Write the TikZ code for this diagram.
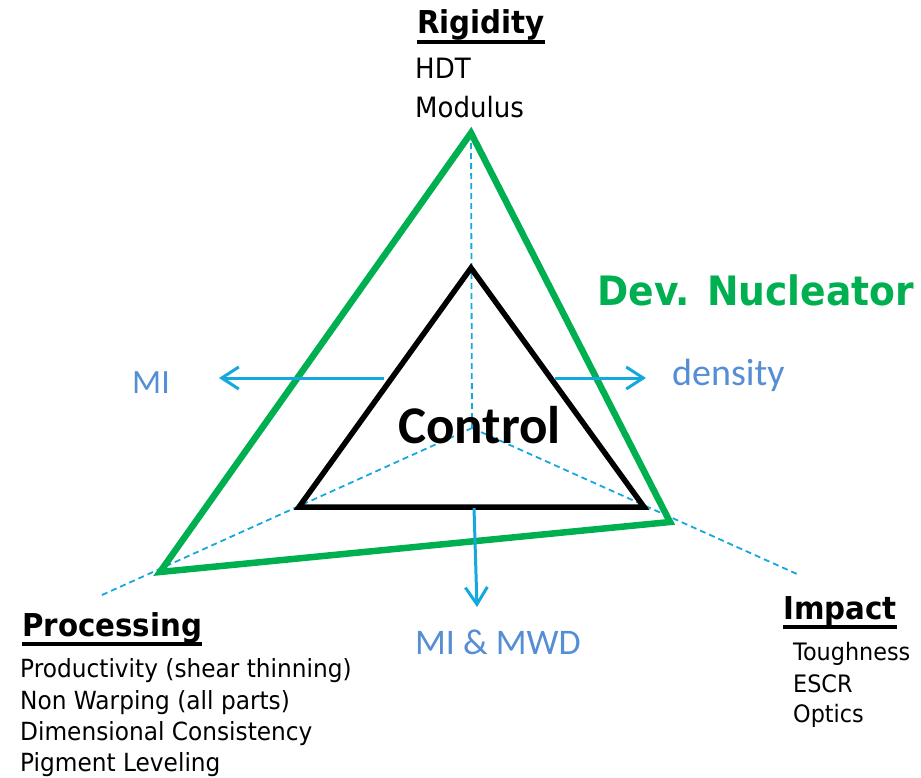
\documentclass[tikz,border=0pt]{standalone}
\usepackage{fontspec}
\setmainfont[FakeStretch=0.93]{DejaVu Sans}
\newfontfamily\carl{Carlito}
\usetikzlibrary{arrows.meta}
\definecolor{devgreen}{RGB}{0,176,80}
\definecolor{axcyan}{RGB}{20,168,220}
\definecolor{txblue}{RGB}{85,142,213}
\tikzset{
  txt/.style={inner sep=0pt, anchor=base west},
  head/.style={txt, font=\bfseries\fontsize{31.5pt}{36pt}\selectfont},
  bodyA/.style={txt, font=\fontsize{25pt}{30pt}\selectfont},
  bodyB/.style={txt, font=\fontsize{24pt}{29pt}\selectfont},
  bodyC/.style={txt, font=\fontsize{28pt}{33pt}\selectfont},
  axlab/.style={txt, text=txblue, font=\carl\fontsize{38pt}{44pt}\selectfont},
  uline/.style={line width=3.5pt},
  dashax/.style={axcyan, line width=1.8pt, dash pattern=on 6pt off 4pt},
  arr/.style={axcyan, line width=3pt, -{Straight Barb[length=17pt,width=22pt]}},
  gtri/.style={devgreen, line width=6.5pt},
  btri/.style={black, line width=5.5pt},
}
\begin{document}
\begin{tikzpicture}[x=1pt,y=-1pt]
\useasboundingbox (0,0) rectangle (921,777);
% coordinates
\coordinate (C) at (472,428);
\coordinate (gA) at (471,133);
\coordinate (gL) at (160,572);
\coordinate (gR) at (670,522);
\coordinate (bA) at (471,268);
\coordinate (bL) at (299,507);
\coordinate (bR) at (644,507);
\coordinate (dL) at (102,595);
\coordinate (dR) at (797,574);
\coordinate (miS) at (384,378);
\coordinate (miE) at (219,378);
\coordinate (deS) at (555,378);
\coordinate (deE) at (646,378);
\coordinate (dnS) at (474,508);
\coordinate (dnE) at (477,607);
% dashed axes
\draw[dashax] (gA) -- (C);
\draw[dashax] (C) -- (dL);
\draw[dashax] (C) -- (dR);
% triangles
\draw[gtri] (gA) -- (gR) -- (gL) -- cycle;
\draw[btri] (bA) -- (bR) -- (bL) -- cycle;
% arrows
\draw[arr] (miS) -- (miE);
\draw[arr] (deS) -- (deE);
\draw[arr] (dnS) -- (dnE);
% axis labels
\node[axlab, font=\carl\fontsize{34pt}{40pt}\selectfont] (mi) at (132,393) {MI};
\node[axlab] (dens) at (672,385) {density};
\node[axlab, font=\carl\fontsize{36pt}{42pt}\selectfont] (mimwd) at (415,654) {MI \& MWD};
% center
\node[txt, font=\carl\bfseries\fontsize{53pt}{60pt}\selectfont] (ctrl) at (398,443) {Control};
\node[txt, text=devgreen, font=\bfseries\fontsize{40.5pt}{46pt}\selectfont] (dev) at (597,305) {Dev. Nucleator};
% Rigidity
\node[head] (rig) at (417,33) {Rigidity};
\draw[uline] ([yshift=-9pt]rig.base west) -- ([yshift=-9pt]rig.base east);
\node[bodyC] (hdt) at (415,78) {HDT};
\node[bodyC] (mod) at (415,117) {Modulus};
% Processing
\node[head] (proc) at (22,636) {Processing};
\draw[uline] ([yshift=-8pt]proc.base west) -- ([yshift=-8pt]proc.base east);
\node[bodyA] (p1) at (20,677) {Productivity (shear thinning)};
\node[bodyA] (p2) at (20,709) {Non Warping (all parts)};
\node[bodyA] (p3) at (20,740) {Dimensional Consistency};
\node[bodyA] (p4) at (20,771) {Pigment Leveling};
% Impact
\node[head] (imp) at (783,619) {Impact};
\draw[uline] ([yshift=-8pt]imp.base west) -- ([yshift=-8pt]imp.base east);
\node[bodyB] (i1) at (793,660) {Toughness};
\node[bodyB] (i2) at (793,692) {ESCR};
\node[bodyB] (i3) at (793,722) {Optics};
\end{tikzpicture}
\end{document}
